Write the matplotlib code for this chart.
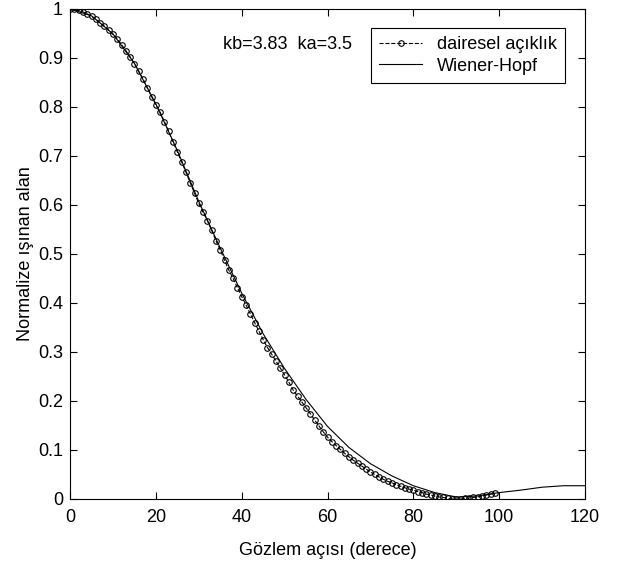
import numpy as np
import matplotlib
matplotlib.use("Agg")
import matplotlib.pyplot as plt
from matplotlib.ticker import FuncFormatter

plt.rcParams['font.family'] = ['Liberation Sans', 'DejaVu Sans']

# dairesel aciklik (circles), 1 degree steps
theta_circ = np.arange(0, 100)
field_circ = [1.000, 0.999, 0.997, 0.994, 0.990, 0.985, 0.979, 0.972, 0.965, 0.957,
              0.948, 0.939, 0.927, 0.915, 0.902, 0.888, 0.873, 0.857, 0.839, 0.821,
              0.804, 0.789, 0.770, 0.750, 0.729, 0.708, 0.688, 0.667, 0.645, 0.624,
              0.603, 0.585, 0.568, 0.548, 0.527, 0.508, 0.487, 0.467, 0.450, 0.431,
              0.413, 0.396, 0.378, 0.360, 0.343, 0.325, 0.309, 0.295, 0.281, 0.267,
              0.253, 0.238, 0.222, 0.210, 0.198, 0.186, 0.174, 0.161, 0.149, 0.137,
              0.126, 0.117, 0.109, 0.101, 0.093, 0.086, 0.079, 0.073, 0.067, 0.061,
              0.055, 0.050, 0.045, 0.040, 0.036, 0.033, 0.029, 0.026, 0.023, 0.020,
              0.018, 0.015, 0.013, 0.010, 0.008, 0.006, 0.004, 0.003, 0.001, 0.000,
              0.000, 0.000, 0.001, 0.002, 0.003, 0.004, 0.006, 0.008, 0.010, 0.012]

# Wiener-Hopf (solid)
theta_wh = [0, 5, 10, 15, 20, 25, 30, 35, 40, 45, 50, 55, 60, 65, 70, 75, 80, 85,
            90, 95, 100, 105, 110, 115, 120]
field_wh = [1.000, 0.986, 0.949, 0.889, 0.806, 0.711, 0.607, 0.512, 0.420, 0.337,
            0.266, 0.203, 0.148, 0.105, 0.072, 0.047, 0.027, 0.013, 0.004, 0.006,
            0.013, 0.018, 0.024, 0.027, 0.027]

fig = plt.figure(figsize=(6.2, 5.67), dpi=100)
ax = fig.add_axes([0.113, 0.12, 0.8306, 0.8642])

ax.plot(theta_circ, field_circ, '--o', color='black', lw=0.8, markersize=4,
        markerfacecolor='none', markeredgewidth=0.8, label='dairesel açıklık')
ax.plot(theta_wh, field_wh, '-', color='black', lw=0.8, label='Wiener-Hopf')

ax.set_xlim(0, 120)
ax.set_ylim(0, 1)
ax.set_xticks(np.arange(0, 121, 20))
ax.set_yticks(np.arange(0, 1.01, 0.1))
ax.yaxis.set_major_formatter(FuncFormatter(lambda v, p: '%d' % round(v) if round(v, 3) in (0, 1) else '%.1f' % v))
ax.tick_params(direction='in', top=True, right=True, length=5, width=0.8, labelsize=13)
ax.tick_params(axis='x', pad=7)
ax.tick_params(axis='y', pad=5)
for s in ax.spines.values():
    s.set_linewidth(0.8)

ax.set_xlabel('Gözlem açısı (derece)', fontsize=13, labelpad=12)
ax.set_ylabel('Normalize ışınan alan', fontsize=13, labelpad=3)

ax.text(65.7, 0.927, 'kb=3.83  ka=3.5', fontsize=13, va='center', ha='right')

leg = ax.legend(loc='upper right', bbox_to_anchor=(0.961, 0.961), fontsize=13,
                fancybox=False, edgecolor='black', framealpha=1, borderaxespad=0,
                handlelength=2.4, borderpad=0.45, labelspacing=0.25, handletextpad=0.8)
leg.get_frame().set_linewidth(0.8)

fig.savefig('out.png', dpi=100)
